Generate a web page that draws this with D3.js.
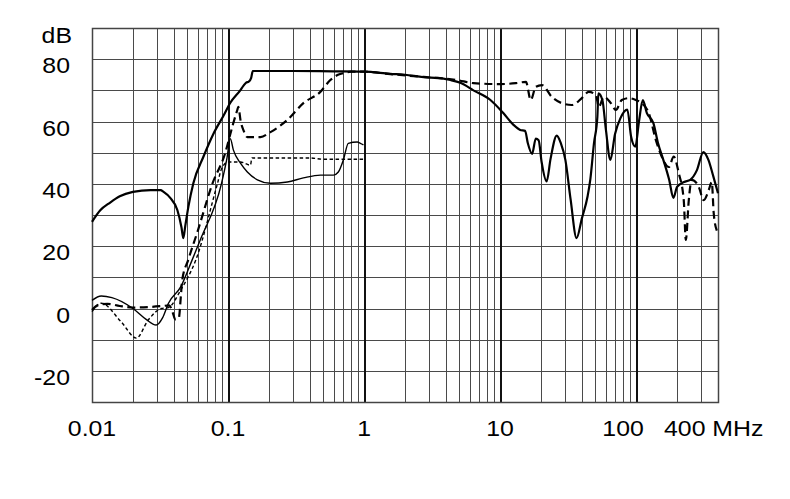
<!DOCTYPE html>
<head>
<meta charset="utf-8">
<style>
body, html {
  margin: 0;
  background: #fff;
  font-family: "Liberation Sans", Arial, sans-serif;
}
.grid line {
  stroke: #4a4a4a;
  stroke-width: 1;
  shape-rendering: crispEdges;
}
.grid line.decade {
  stroke: #111;
  stroke-width: 2;
}
.curve {
  fill: none;
  stroke: #000;
  stroke-linejoin: round;
}
.lbl {
  font-size: 22px;
  fill: #000;
}
</style>
<script src="https://d3js.org/d3.v7.min.js"></script>
</head>
<body>
<script>

// attenuation curves, [MHz, dB]
var curveA = [[0.01,27.8],[0.0115,31.5],[0.0136,34],[0.016,36],[0.02,37.4],[0.027,38],[0.032,38],[0.0334,37.5],
  [0.0376,35.5],[0.0424,31.6],[0.0455,26],[0.0469,22.6],[0.0485,26.5],[0.0511,32.6],[0.0556,40.2],[0.0658,48.6],
  [0.078,56],[0.093,62],[0.104,66],[0.123,70],[0.13,71.5],[0.136,72.5],[0.142,72.8],[0.148,74],[0.152,76.2],
  [0.3,76.2],[0.6,76.1],[1.0,76],[1.56,75.3],[2.0,75],[2.74,74.2],[3.5,74],[4.31,73.3],[5.1,72.4],[6.37,70],
  [8.49,66.9],[10.56,62.7],[12.5,59],[14.06,57.3],[15.27,57],[16,53],[17.2,49.6],[18.3,54.5],[19.2,54],[20.2,47],
  [22.0,40.8],[23.5,48],[26.1,55.5],[28,53],[30.2,47.7],[33,35],[36.5,22.6],[40,29],[44,36],[46.1,41.5],[49,53],
  [51.9,61.5],[52.8,69],[56.5,66.9],[60,57.3],[64.7,47.7],[70,56],[76.6,61],[86.2,63.8],[92,55],[98.7,51.9],
  [105,60],[112,66.9],[120,62.7],[134,59.5],[145,53],[158.5,47.7],[175,41.3],[188,35.5],[200,39],[225,40.6],
  [250,41.3],[280,44.4],[312,50.2],[340,47.7],[370,42.3],[400,37]];

var curveB = [[0.01,-0.5],[0.011,1],[0.013,1.5],[0.016,0.8],[0.02,0.3],[0.027,0.5],[0.033,0.8],[0.037,1],
  [0.039,-1],[0.041,-3.5],[0.0435,-3],[0.045,4],[0.046,9],[0.051,15.6],[0.06,25],[0.0767,40],[0.0955,50],
  [0.104,56],[0.1094,59.5],[0.117,63.7],[0.119,64.7],[0.124,60],[0.1296,57.3],[0.1387,55],[0.173,55],[0.205,56.6],
  [0.273,60.5],[0.358,65.9],[0.477,69.5],[0.565,73.3],[0.637,74.9],[0.705,75.5],[0.8,76],[1.0,76],[1.56,75.2],
  [2.73,74.3],[4.85,73.3],[6.37,72.3],[10,72],[13.05,72.3],[15.5,72.7],[16.8,66.9],[18.3,71.1],[20.3,71.7],
  [24,67.9],[28.4,65.9],[33.7,65.3],[39.9,67.5],[44.9,69.5],[50.6,68.5],[53.2,64.7],[57.9,67.9],[65.2,65.9],
  [71,63.7],[78.5,66.9],[88.4,67.5],[99.5,66.9],[110,65.9],[124,62.7],[139.6,54.1],[154.5,48.7],[174,45.4],
  [189,48.7],[206,43.4],[224,34.8],[232,22],[244,34.8],[256,41.3],[289,39],[314,34.8],[342,38],[360,40.6],
  [372,30.6],[392,25]];

var curveC = [[0.01,2.6],[0.0117,4],[0.014,3.5],[0.02,0],[0.025,-3.5],[0.0296,-5.3],[0.033,-3],[0.0364,1.6],
  [0.045,7],[0.0545,15.6],[0.0625,22],[0.0894,40],[0.098,48],[0.104,54.5],[0.1094,50.9],[0.1231,46.7],
  [0.1387,43.8],[0.1643,41.3],[0.205,40.2],[0.273,40.6],[0.358,41.9],[0.477,42.8],[0.595,42.8],[0.647,43.8],
  [0.705,47.7],[0.766,53],[0.892,53.4],[0.94,53],[0.99,52.5]];

var curveD = [[0.01,-1],[0.0117,1.7],[0.0164,-4.3],[0.0212,-9.5],[0.0259,-3.7],[0.0323,0],[0.0364,0.3],
  [0.045,6],[0.058,15.6],[0.0835,40],[0.09,45],[0.1,47],[0.123,47],[0.146,46],[0.15,48.3],[0.4,48.3],
  [0.5,47.9],[1.0,47.9]];

var xTicks = [0.01, 0.1, 1, 10, 100];
var xTickLabels = ["0.01", "0.1", "1", "10", "100"];
var yTicks = [-20, 0, 20, 40, 60, 80];

//==========================================
var width = 790, height = 499;
var plotLeft = 92, plotRight = 718, plotTop = 28, plotBottom = 402;

var x = d3.scaleLog().domain([0.01, 400]).range([plotLeft, plotRight]);
var y = d3.scaleLinear().domain([-30, 90]).range([plotBottom, plotTop]);

var svg = d3.select("body").append("svg")
    .attr("width", width)
    .attr("height", height);

// grid
var grid = svg.append("g").attr("class", "grid");

var vlines = [];
for (var k = -2; k <= 2; k++) {
  for (var m = 1; m <= 9; m++) {
    var f = m * Math.pow(10, k);
    if (f > 0.0101 && f < 399) vlines.push({f: f, decade: m === 1});
  }
}

grid.selectAll("line.h")
  .data(d3.range(-30, 91, 10))
  .enter().append("line")
  .attr("x1", plotLeft).attr("x2", plotRight)
  .attr("y1", function(d) { return Math.round(y(d)) + 0.5; })
  .attr("y2", function(d) { return Math.round(y(d)) + 0.5; });

grid.selectAll("line.v")
  .data(vlines)
  .enter().append("line")
  .attr("class", function(d) { return d.decade ? "decade" : null; })
  .attr("x1", function(d) { return Math.round(x(d.f)) + 0.5; })
  .attr("x2", function(d) { return Math.round(x(d.f)) + 0.5; })
  .attr("y1", plotTop).attr("y2", plotBottom);

grid.append("rect")
  .attr("x", plotLeft + 0.5).attr("y", plotTop + 0.5)
  .attr("width", plotRight - plotLeft).attr("height", plotBottom - plotTop)
  .attr("fill", "none").attr("stroke", "#444").attr("stroke-width", 1.5);

// curves
var line = d3.line()
  .x(function(d) { return x(d[0]); })
  .y(function(d) { return y(d[1]); })
  .curve(d3.curveMonotoneX);

var styles = [
  {data: curveD, w: 1.4, dash: "3.5,2.5"},
  {data: curveC, w: 1.4, dash: null},
  {data: curveB, w: 2.2, dash: "8,4.5"},
  {data: curveA, w: 2.2, dash: null}
];

svg.selectAll("path.curve")
  .data(styles)
  .enter().append("path")
  .attr("class", "curve")
  .attr("stroke-width", function(d) { return d.w; })
  .attr("stroke-dasharray", function(d) { return d.dash; })
  .attr("d", function(d) { return line(d.data); });

// labels
function label(txt, px, py, anchor) {
  svg.append("text")
    .attr("class", "lbl")
    .attr("text-anchor", anchor)
    .attr("transform", "translate(" + px + "," + py + ") scale(1.13,1)")
    .text(txt);
}

xTicks.forEach(function(t, i) {
  // "100" sits a little left so it clears "400 MHz"
  var shift = t === 100 ? -13 : 0;
  label(xTickLabels[i], x(t) + shift, 436, "middle");
});
label("400 MHz", 664, 436, "start");

yTicks.forEach(function(t) {
  label(t, 70, y(t) + 14, "end");
});
label("dB", 72, 43, "end");

</script>
</body>
</html>
